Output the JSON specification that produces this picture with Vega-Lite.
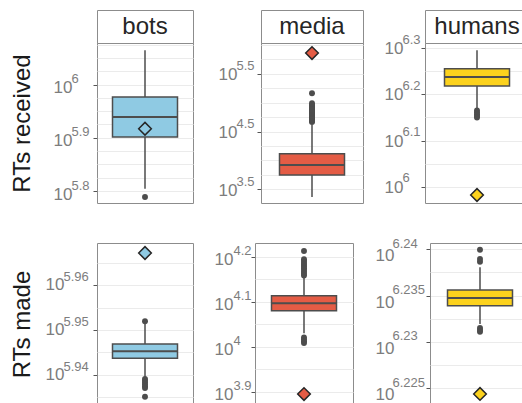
{
  "$schema": "https://vega.github.io/schema/vega-lite/v6.json",
  "autosize": {"type": "pad"},
  "padding": {"left": 9, "top": 9, "right": 0, "bottom": 0},
  "config": {
    "font": "Liberation Sans",
    "view": {"stroke": "#8c8c8c", "strokeWidth": 1},
    "axis": {
      "domain": false,
      "labelColor": "#7d7d7d",
      "labelFont": "Liberation Sans",
      "tickColor": "#555555",
      "tickSize": 4,
      "tickWidth": 1,
      "titleColor": "#1a1a1a",
      "titleFont": "Liberation Sans",
      "titleFontSize": 24,
      "titleFontWeight": "normal"
    },
    "axisX": {"gridColor": "#ededed", "gridWidth": 2},
    "axisY": {"gridColor": "#ebebeb", "gridWidth": 1}
  },
  "datasets": {
    "rts": [
      {"group": "bots", "metric": "received", "lower": 5.8045, "q1": 5.9015, "median": 5.939, "q3": 5.9765, "upper": 6.0642},
      {"group": "bots", "metric": "received", "value": 5.789},
      {"group": "bots", "metric": "received", "marker": 5.917},

      {"group": "media", "metric": "received", "lower": 3.367, "q1": 3.748, "median": 3.921, "q3": 4.117, "upper": 4.64},
      {"group": "media", "metric": "received", "value": 4.668},
      {"group": "media", "metric": "received", "value": 4.683},
      {"group": "media", "metric": "received", "value": 4.698},
      {"group": "media", "metric": "received", "value": 4.713},
      {"group": "media", "metric": "received", "value": 4.728},
      {"group": "media", "metric": "received", "value": 4.743},
      {"group": "media", "metric": "received", "value": 4.758},
      {"group": "media", "metric": "received", "value": 4.773},
      {"group": "media", "metric": "received", "value": 4.788},
      {"group": "media", "metric": "received", "value": 4.803},
      {"group": "media", "metric": "received", "value": 4.818},
      {"group": "media", "metric": "received", "value": 4.833},
      {"group": "media", "metric": "received", "value": 4.848},
      {"group": "media", "metric": "received", "value": 4.863},
      {"group": "media", "metric": "received", "value": 4.878},
      {"group": "media", "metric": "received", "value": 4.893},
      {"group": "media", "metric": "received", "value": 4.908},
      {"group": "media", "metric": "received", "value": 4.926},
      {"group": "media", "metric": "received", "value": 4.944},
      {"group": "media", "metric": "received", "value": 4.962},
      {"group": "media", "metric": "received", "value": 4.99},
      {"group": "media", "metric": "received", "value": 5.164},
      {"group": "media", "metric": "received", "marker": 5.862},

      {"group": "humans", "metric": "received", "lower": 6.169, "q1": 6.2179, "median": 6.2374, "q3": 6.2553, "upper": 6.295},
      {"group": "humans", "metric": "received", "value": 6.165},
      {"group": "humans", "metric": "received", "value": 6.161},
      {"group": "humans", "metric": "received", "value": 6.157},
      {"group": "humans", "metric": "received", "value": 6.153},
      {"group": "humans", "metric": "received", "value": 6.15},
      {"group": "humans", "metric": "received", "marker": 5.9825},

      {"group": "bots", "metric": "made", "lower": 5.93937, "q1": 5.94363, "median": 5.9452, "q3": 5.94683, "upper": 5.95131},
      {"group": "bots", "metric": "made", "value": 5.95191},
      {"group": "bots", "metric": "made", "value": 5.93899},
      {"group": "bots", "metric": "made", "value": 5.93859},
      {"group": "bots", "metric": "made", "value": 5.93819},
      {"group": "bots", "metric": "made", "value": 5.93779},
      {"group": "bots", "metric": "made", "value": 5.93739},
      {"group": "bots", "metric": "made", "value": 5.93697},
      {"group": "bots", "metric": "made", "value": 5.93503},
      {"group": "bots", "metric": "made", "marker": 5.96721},

      {"group": "media", "metric": "made", "lower": 4.0294, "q1": 4.0797, "median": 4.0962, "q3": 4.1131, "upper": 4.154},
      {"group": "media", "metric": "made", "value": 4.2125},
      {"group": "media", "metric": "made", "value": 4.194},
      {"group": "media", "metric": "made", "value": 4.19},
      {"group": "media", "metric": "made", "value": 4.186},
      {"group": "media", "metric": "made", "value": 4.182},
      {"group": "media", "metric": "made", "value": 4.178},
      {"group": "media", "metric": "made", "value": 4.174},
      {"group": "media", "metric": "made", "value": 4.17},
      {"group": "media", "metric": "made", "value": 4.166},
      {"group": "media", "metric": "made", "value": 4.162},
      {"group": "media", "metric": "made", "value": 4.158},
      {"group": "media", "metric": "made", "value": 4.02},
      {"group": "media", "metric": "made", "value": 4.016},
      {"group": "media", "metric": "made", "value": 4.012},
      {"group": "media", "metric": "made", "value": 4.008},
      {"group": "media", "metric": "made", "marker": 3.8944},

      {"group": "humans", "metric": "made", "lower": 6.23193, "q1": 6.23391, "median": 6.23474, "q3": 6.2356, "upper": 6.23805},
      {"group": "humans", "metric": "made", "value": 6.23995},
      {"group": "humans", "metric": "made", "value": 6.23894},
      {"group": "humans", "metric": "made", "value": 6.23865},
      {"group": "humans", "metric": "made", "value": 6.2315},
      {"group": "humans", "metric": "made", "value": 6.2313},
      {"group": "humans", "metric": "made", "value": 6.2311},
      {"group": "humans", "metric": "made", "marker": 6.22439}
    ]
  },
  "spacing": 31,
  "vconcat": [
    {
      "spacing": 23,
      "hconcat": [
        {
          "bounds": "flush",
          "spacing": 0,
          "vconcat": [
            {
              "width": 96, "height": 33,
              "view": {"stroke": "#8c8c8c", "fill": "#ffffff"},
              "data": {"values": [{"group": "bots"}]},
              "mark": {"type": "text", "fontSize": 24, "color": "#262626", "baseline": "middle"},
              "encoding": {"text": {"field": "group"}}
            },
            {
              "width": 96, "height": 160,
              "data": {"name": "rts"},
              "transform": [{"filter": "datum.group === 'bots' && datum.metric === 'received'"}],
              "resolve": {"axis": {"y": "independent"}},
              "layer": [
                {
                  "mark": {"type": "rule", "color": "#4d4d4d", "strokeWidth": 1.5},
                  "encoding": {
                    "x": {"field": "group", "type": "nominal", "axis": {"orient": "top", "domain": true, "domainColor": "#333333", "domainWidth": 1.5, "labels": false, "ticks": false, "title": null, "grid": true, "bandPosition": 0.5}},
                    "y": {"field": "lower", "type": "quantitative", "scale": {"domain": [5.7777, 6.0779], "nice": false, "zero": false}, "axis": {"orient": "left", "values": [5.8, 5.825, 5.85, 5.875, 5.9, 5.925, 5.95, 5.975, 6, 6.025, 6.05, 6.075], "grid": true, "labels": false, "ticks": false, "title": null}},
                    "y2": {"field": "upper"}
                  }
                },
                {
                  "mark": {"type": "bar", "size": 65, "stroke": "#4d4d4d", "strokeWidth": 1.5},
                  "encoding": {
                    "x": {"field": "group", "type": "nominal", "axis": null},
                    "y": {"field": "q1", "type": "quantitative", "scale": {"domain": [5.7777, 6.0779], "nice": false, "zero": false}, "axis": {"orient": "left", "values": [5.8, 5.9, 6], "grid": false, "labelExpr": "'10'", "labelAlign": "left", "labelBaseline": "alphabetic", "labelPadding": 40, "labelOffset": 8, "labelFontSize": 17, "title": "RTs received", "titlePadding": 19}},
                    "y2": {"field": "q3"},
                    "color": {"field": "group", "type": "nominal", "scale": {"domain": ["bots", "media", "humans"], "range": ["#8fcae3", "#e45c45", "#fcd21d"]}, "legend": null}
                  }
                },
                {
                  "mark": {"type": "tick", "size": 65, "thickness": 2, "color": "#4d4d4d", "opacity": 1},
                  "encoding": {
                    "x": {"field": "group", "type": "nominal", "axis": null},
                    "y": {"field": "median", "type": "quantitative", "scale": {"domain": [5.7777, 6.0779], "nice": false, "zero": false}, "axis": {"orient": "left", "values": [5.8, 5.9, 6], "grid": false, "ticks": false, "labelExpr": "format(datum.value, '~g')", "labelAlign": "left", "labelBaseline": "alphabetic", "labelPadding": 26, "labelOffset": -2, "labelFontSize": 13, "title": null}}
                  }
                },
                {
                  "mark": {"type": "point", "filled": true, "size": 35, "color": "#4d4d4d", "opacity": 1},
                  "encoding": {
                    "x": {"field": "group", "type": "nominal", "axis": null},
                    "y": {"field": "value", "type": "quantitative", "scale": {"domain": [5.7777, 6.0779], "nice": false, "zero": false}, "axis": null}
                  }
                },
                {
                  "mark": {"type": "point", "shape": "diamond", "filled": true, "size": 160, "stroke": "#262626", "strokeWidth": 1.5, "opacity": 1},
                  "encoding": {
                    "x": {"field": "group", "type": "nominal", "axis": null},
                    "y": {"field": "marker", "type": "quantitative", "scale": {"domain": [5.7777, 6.0779], "nice": false, "zero": false}, "axis": null},
                    "color": {"field": "group", "type": "nominal", "scale": {"domain": ["bots", "media", "humans"], "range": ["#8fcae3", "#e45c45", "#fcd21d"]}, "legend": null}
                  }
                }
              ]
            }
          ]
        },
        {
          "spacing": 19,
          "hconcat": [
            {
              "bounds": "flush",
              "spacing": 0,
              "vconcat": [
                {
                  "width": 102, "height": 33,
                  "view": {"stroke": "#8c8c8c", "fill": "#ffffff"},
                  "data": {"values": [{"group": "media"}]},
                  "mark": {"type": "text", "fontSize": 24, "color": "#262626", "baseline": "middle"},
                  "encoding": {"text": {"field": "group"}}
                },
                {
                  "width": 102, "height": 160,
                  "data": {"name": "rts"},
                  "transform": [{"filter": "datum.group === 'media' && datum.metric === 'received'"}],
                  "resolve": {"axis": {"y": "independent"}},
                  "layer": [
                    {
                      "mark": {"type": "rule", "color": "#4d4d4d", "strokeWidth": 1.5},
                      "encoding": {
                        "x": {"field": "group", "type": "nominal", "axis": {"orient": "top", "domain": true, "domainColor": "#333333", "domainWidth": 1.5, "labels": false, "ticks": false, "title": null, "grid": true, "bandPosition": 0.5}},
                        "y": {"field": "lower", "type": "quantitative", "scale": {"domain": [3.2626, 6.0355], "nice": false, "zero": false}, "axis": {"orient": "left", "values": [3.5, 3.75, 4, 4.25, 4.5, 4.75, 5, 5.25, 5.5, 5.75, 6], "grid": true, "labels": false, "ticks": false, "title": null}},
                        "y2": {"field": "upper"}
                      }
                    },
                    {
                      "mark": {"type": "bar", "size": 65, "stroke": "#4d4d4d", "strokeWidth": 1.5},
                      "encoding": {
                        "x": {"field": "group", "type": "nominal", "axis": null},
                        "y": {"field": "q1", "type": "quantitative", "scale": {"domain": [3.2626, 6.0355], "nice": false, "zero": false}, "axis": {"orient": "left", "values": [3.5, 4.5, 5.5], "grid": false, "labelExpr": "'10'", "labelAlign": "left", "labelBaseline": "alphabetic", "labelPadding": 39, "labelOffset": 6, "labelFontSize": 17, "title": null}},
                        "y2": {"field": "q3"},
                        "color": {"field": "group", "type": "nominal", "scale": {"domain": ["bots", "media", "humans"], "range": ["#8fcae3", "#e45c45", "#fcd21d"]}, "legend": null}
                      }
                    },
                    {
                      "mark": {"type": "tick", "size": 65, "thickness": 2, "color": "#4d4d4d", "opacity": 1},
                      "encoding": {
                        "x": {"field": "group", "type": "nominal", "axis": null},
                        "y": {"field": "median", "type": "quantitative", "scale": {"domain": [3.2626, 6.0355], "nice": false, "zero": false}, "axis": {"orient": "left", "values": [3.5, 4.5, 5.5], "grid": false, "ticks": false, "labelExpr": "format(datum.value, '~g')", "labelAlign": "left", "labelBaseline": "alphabetic", "labelPadding": 25, "labelOffset": -4, "labelFontSize": 13, "title": null}}
                      }
                    },
                    {
                      "mark": {"type": "point", "filled": true, "size": 35, "color": "#4d4d4d", "opacity": 1},
                      "encoding": {
                        "x": {"field": "group", "type": "nominal", "axis": null},
                        "y": {"field": "value", "type": "quantitative", "scale": {"domain": [3.2626, 6.0355], "nice": false, "zero": false}, "axis": null}
                      }
                    },
                    {
                      "mark": {"type": "point", "shape": "diamond", "filled": true, "size": 160, "stroke": "#262626", "strokeWidth": 1.5, "opacity": 1},
                      "encoding": {
                        "x": {"field": "group", "type": "nominal", "axis": null},
                        "y": {"field": "marker", "type": "quantitative", "scale": {"domain": [3.2626, 6.0355], "nice": false, "zero": false}, "axis": null},
                        "color": {"field": "group", "type": "nominal", "scale": {"domain": ["bots", "media", "humans"], "range": ["#8fcae3", "#e45c45", "#fcd21d"]}, "legend": null}
                      }
                    }
                  ]
                }
              ]
            },
            {
              "bounds": "flush",
              "spacing": 0,
              "vconcat": [
                {
                  "width": 104, "height": 33,
                  "view": {"stroke": "#8c8c8c", "fill": "#ffffff"},
                  "data": {"values": [{"group": "humans"}]},
                  "mark": {"type": "text", "fontSize": 24, "color": "#262626", "baseline": "middle"},
                  "encoding": {"text": {"field": "group"}}
                },
                {
                  "width": 104, "height": 160,
                  "data": {"name": "rts"},
                  "transform": [{"filter": "datum.group === 'humans' && datum.metric === 'received'"}],
                  "resolve": {"axis": {"y": "independent"}},
                  "layer": [
                    {
                      "mark": {"type": "rule", "color": "#4d4d4d", "strokeWidth": 1.5},
                      "encoding": {
                        "x": {"field": "group", "type": "nominal", "axis": {"orient": "top", "domain": true, "domainColor": "#333333", "domainWidth": 1.5, "labels": false, "ticks": false, "title": null, "grid": true, "bandPosition": 0.5}},
                        "y": {"field": "lower", "type": "quantitative", "scale": {"domain": [5.9652, 6.3108], "nice": false, "zero": false}, "axis": {"orient": "left", "values": [6, 6.05, 6.1, 6.15, 6.2, 6.25, 6.3], "grid": true, "labels": false, "ticks": false, "title": null}},
                        "y2": {"field": "upper"}
                      }
                    },
                    {
                      "mark": {"type": "bar", "size": 65, "stroke": "#4d4d4d", "strokeWidth": 1.5},
                      "encoding": {
                        "x": {"field": "group", "type": "nominal", "axis": null},
                        "y": {"field": "q1", "type": "quantitative", "scale": {"domain": [5.9652, 6.3108], "nice": false, "zero": false}, "axis": {"orient": "left", "values": [6, 6.1, 6.2, 6.3], "grid": false, "labelExpr": "'10'", "labelAlign": "left", "labelBaseline": "alphabetic", "labelPadding": 37, "labelOffset": 5.5, "labelFontSize": 17, "title": null}},
                        "y2": {"field": "q3"},
                        "color": {"field": "group", "type": "nominal", "scale": {"domain": ["bots", "media", "humans"], "range": ["#8fcae3", "#e45c45", "#fcd21d"]}, "legend": null}
                      }
                    },
                    {
                      "mark": {"type": "tick", "size": 65, "thickness": 2, "color": "#4d4d4d", "opacity": 1},
                      "encoding": {
                        "x": {"field": "group", "type": "nominal", "axis": null},
                        "y": {"field": "median", "type": "quantitative", "scale": {"domain": [5.9652, 6.3108], "nice": false, "zero": false}, "axis": {"orient": "left", "values": [6, 6.1, 6.2, 6.3], "grid": false, "ticks": false, "labelExpr": "format(datum.value, '~g')", "labelAlign": "left", "labelBaseline": "alphabetic", "labelPadding": 23, "labelOffset": -5, "labelFontSize": 13, "title": null}}
                      }
                    },
                    {
                      "mark": {"type": "point", "filled": true, "size": 35, "color": "#4d4d4d", "opacity": 1},
                      "encoding": {
                        "x": {"field": "group", "type": "nominal", "axis": null},
                        "y": {"field": "value", "type": "quantitative", "scale": {"domain": [5.9652, 6.3108], "nice": false, "zero": false}, "axis": null}
                      }
                    },
                    {
                      "mark": {"type": "point", "shape": "diamond", "filled": true, "size": 160, "stroke": "#262626", "strokeWidth": 1.5, "opacity": 1},
                      "encoding": {
                        "x": {"field": "group", "type": "nominal", "axis": null},
                        "y": {"field": "marker", "type": "quantitative", "scale": {"domain": [5.9652, 6.3108], "nice": false, "zero": false}, "axis": null},
                        "color": {"field": "group", "type": "nominal", "scale": {"domain": ["bots", "media", "humans"], "range": ["#8fcae3", "#e45c45", "#fcd21d"]}, "legend": null}
                      }
                    }
                  ]
                }
              ]
            }
          ]
        }
      ]
    },
    {
      "spacing": 19,
      "hconcat": [
        {
          "width": 96, "height": 162,
          "data": {"name": "rts"},
          "transform": [{"filter": "datum.group === 'bots' && datum.metric === 'made'"}],
          "resolve": {"axis": {"y": "independent"}},
          "layer": [
            {
              "mark": {"type": "rule", "color": "#4d4d4d", "strokeWidth": 1.5},
              "encoding": {
                "x": {"field": "group", "type": "nominal", "axis": {"orient": "top", "domain": false, "labels": false, "ticks": false, "title": null, "grid": true, "bandPosition": 0.5}},
                "y": {"field": "lower", "type": "quantitative", "scale": {"domain": [5.93317, 5.96945], "nice": false, "zero": false}, "axis": {"orient": "left", "values": [5.935, 5.94, 5.945, 5.95, 5.955, 5.96, 5.965], "grid": true, "labels": false, "ticks": false, "title": null}},
                "y2": {"field": "upper"}
              }
            },
            {
              "mark": {"type": "bar", "size": 65, "stroke": "#4d4d4d", "strokeWidth": 1.5},
              "encoding": {
                "x": {"field": "group", "type": "nominal", "axis": null},
                "y": {"field": "q1", "type": "quantitative", "scale": {"domain": [5.93317, 5.96945], "nice": false, "zero": false}, "axis": {"orient": "left", "values": [5.94, 5.95, 5.96], "grid": false, "labelExpr": "'10'", "labelAlign": "left", "labelBaseline": "alphabetic", "labelPadding": 48, "labelOffset": 4.5, "labelFontSize": 17, "title": "RTs made", "titlePadding": 11}},
                "y2": {"field": "q3"},
                "color": {"field": "group", "type": "nominal", "scale": {"domain": ["bots", "media", "humans"], "range": ["#8fcae3", "#e45c45", "#fcd21d"]}, "legend": null}
              }
            },
            {
              "mark": {"type": "tick", "size": 65, "thickness": 2, "color": "#4d4d4d", "opacity": 1},
              "encoding": {
                "x": {"field": "group", "type": "nominal", "axis": null},
                "y": {"field": "median", "type": "quantitative", "scale": {"domain": [5.93317, 5.96945], "nice": false, "zero": false}, "axis": {"orient": "left", "values": [5.94, 5.95, 5.96], "grid": false, "ticks": false, "labelExpr": "format(datum.value, '~g')", "labelAlign": "left", "labelBaseline": "alphabetic", "labelPadding": 34, "labelOffset": -4.5, "labelFontSize": 13, "title": null}}
              }
            },
            {
              "mark": {"type": "point", "filled": true, "size": 35, "color": "#4d4d4d", "opacity": 1},
              "encoding": {
                "x": {"field": "group", "type": "nominal", "axis": null},
                "y": {"field": "value", "type": "quantitative", "scale": {"domain": [5.93317, 5.96945], "nice": false, "zero": false}, "axis": null}
              }
            },
            {
              "mark": {"type": "point", "shape": "diamond", "filled": true, "size": 160, "stroke": "#262626", "strokeWidth": 1.5, "opacity": 1},
              "encoding": {
                "x": {"field": "group", "type": "nominal", "axis": null},
                "y": {"field": "marker", "type": "quantitative", "scale": {"domain": [5.93317, 5.96945], "nice": false, "zero": false}, "axis": null},
                "color": {"field": "group", "type": "nominal", "scale": {"domain": ["bots", "media", "humans"], "range": ["#8fcae3", "#e45c45", "#fcd21d"]}, "legend": null}
              }
            }
          ]
        },
        {
          "spacing": 20,
          "hconcat": [
            {
              "width": 98, "height": 162,
              "data": {"name": "rts"},
              "transform": [{"filter": "datum.group === 'media' && datum.metric === 'made'"}],
              "resolve": {"axis": {"y": "independent"}},
              "layer": [
                {
                  "mark": {"type": "rule", "color": "#4d4d4d", "strokeWidth": 1.5},
                  "encoding": {
                    "x": {"field": "group", "type": "nominal", "axis": {"orient": "top", "domain": false, "labels": false, "ticks": false, "title": null, "grid": true, "bandPosition": 0.5}},
                    "y": {"field": "lower", "type": "quantitative", "scale": {"domain": [3.87, 4.2302], "nice": false, "zero": false}, "axis": {"orient": "left", "values": [3.9, 3.95, 4, 4.05, 4.1, 4.15, 4.2], "grid": true, "labels": false, "ticks": false, "title": null}},
                    "y2": {"field": "upper"}
                  }
                },
                {
                  "mark": {"type": "bar", "size": 65, "stroke": "#4d4d4d", "strokeWidth": 1.5},
                  "encoding": {
                    "x": {"field": "group", "type": "nominal", "axis": null},
                    "y": {"field": "q1", "type": "quantitative", "scale": {"domain": [3.87, 4.2302], "nice": false, "zero": false}, "axis": {"orient": "left", "values": [3.9, 4, 4.1, 4.2], "grid": false, "labelExpr": "'10'", "labelAlign": "left", "labelBaseline": "alphabetic", "labelPadding": 37, "labelOffset": 7.5, "labelFontSize": 17, "title": null}},
                    "y2": {"field": "q3"},
                    "color": {"field": "group", "type": "nominal", "scale": {"domain": ["bots", "media", "humans"], "range": ["#8fcae3", "#e45c45", "#fcd21d"]}, "legend": null}
                  }
                },
                {
                  "mark": {"type": "tick", "size": 65, "thickness": 2, "color": "#4d4d4d", "opacity": 1},
                  "encoding": {
                    "x": {"field": "group", "type": "nominal", "axis": null},
                    "y": {"field": "median", "type": "quantitative", "scale": {"domain": [3.87, 4.2302], "nice": false, "zero": false}, "axis": {"orient": "left", "values": [3.9, 4, 4.1, 4.2], "grid": false, "ticks": false, "labelExpr": "format(datum.value, '~g')", "labelAlign": "left", "labelBaseline": "alphabetic", "labelPadding": 22, "labelOffset": -2, "labelFontSize": 13, "title": null}}
                  }
                },
                {
                  "mark": {"type": "point", "filled": true, "size": 35, "color": "#4d4d4d", "opacity": 1},
                  "encoding": {
                    "x": {"field": "group", "type": "nominal", "axis": null},
                    "y": {"field": "value", "type": "quantitative", "scale": {"domain": [3.87, 4.2302], "nice": false, "zero": false}, "axis": null}
                  }
                },
                {
                  "mark": {"type": "point", "shape": "diamond", "filled": true, "size": 160, "stroke": "#262626", "strokeWidth": 1.5, "opacity": 1},
                  "encoding": {
                    "x": {"field": "group", "type": "nominal", "axis": null},
                    "y": {"field": "marker", "type": "quantitative", "scale": {"domain": [3.87, 4.2302], "nice": false, "zero": false}, "axis": null},
                    "color": {"field": "group", "type": "nominal", "scale": {"domain": ["bots", "media", "humans"], "range": ["#8fcae3", "#e45c45", "#fcd21d"]}, "legend": null}
                  }
                }
              ]
            },
            {
              "width": 100, "height": 162,
              "data": {"name": "rts"},
              "transform": [{"filter": "datum.group === 'humans' && datum.metric === 'made'"}],
              "resolve": {"axis": {"y": "independent"}},
              "layer": [
                {
                  "mark": {"type": "rule", "color": "#4d4d4d", "strokeWidth": 1.5},
                  "encoding": {
                    "x": {"field": "group", "type": "nominal", "axis": {"orient": "top", "domain": false, "labels": false, "ticks": false, "title": null, "grid": true, "bandPosition": 0.5}},
                    "y": {"field": "lower", "type": "quantitative", "scale": {"domain": [6.2232, 6.24067], "nice": false, "zero": false}, "axis": {"orient": "left", "values": [6.225, 6.2275, 6.23, 6.2325, 6.235, 6.2375, 6.24], "grid": true, "labels": false, "ticks": false, "title": null}},
                    "y2": {"field": "upper"}
                  }
                },
                {
                  "mark": {"type": "bar", "size": 65, "stroke": "#4d4d4d", "strokeWidth": 1.5},
                  "encoding": {
                    "x": {"field": "group", "type": "nominal", "axis": null},
                    "y": {"field": "q1", "type": "quantitative", "scale": {"domain": [6.2232, 6.24067], "nice": false, "zero": false}, "axis": {"orient": "left", "values": [6.225, 6.23, 6.235, 6.24], "grid": false, "labelExpr": "'10'", "labelAlign": "left", "labelBaseline": "alphabetic", "labelPadding": 51, "labelOffset": 11.5, "labelFontSize": 17, "title": null}},
                    "y2": {"field": "q3"},
                    "color": {"field": "group", "type": "nominal", "scale": {"domain": ["bots", "media", "humans"], "range": ["#8fcae3", "#e45c45", "#fcd21d"]}, "legend": null}
                  }
                },
                {
                  "mark": {"type": "tick", "size": 65, "thickness": 2, "color": "#4d4d4d", "opacity": 1},
                  "encoding": {
                    "x": {"field": "group", "type": "nominal", "axis": null},
                    "y": {"field": "median", "type": "quantitative", "scale": {"domain": [6.2232, 6.24067], "nice": false, "zero": false}, "axis": {"orient": "left", "values": [6.225, 6.23, 6.235, 6.24], "grid": false, "ticks": false, "labelExpr": "format(datum.value, '~g')", "labelAlign": "left", "labelBaseline": "alphabetic", "labelPadding": 38, "labelOffset": -2, "labelFontSize": 13, "title": null}}
                  }
                },
                {
                  "mark": {"type": "point", "filled": true, "size": 35, "color": "#4d4d4d", "opacity": 1},
                  "encoding": {
                    "x": {"field": "group", "type": "nominal", "axis": null},
                    "y": {"field": "value", "type": "quantitative", "scale": {"domain": [6.2232, 6.24067], "nice": false, "zero": false}, "axis": null}
                  }
                },
                {
                  "mark": {"type": "point", "shape": "diamond", "filled": true, "size": 160, "stroke": "#262626", "strokeWidth": 1.5, "opacity": 1},
                  "encoding": {
                    "x": {"field": "group", "type": "nominal", "axis": null},
                    "y": {"field": "marker", "type": "quantitative", "scale": {"domain": [6.2232, 6.24067], "nice": false, "zero": false}, "axis": null},
                    "color": {"field": "group", "type": "nominal", "scale": {"domain": ["bots", "media", "humans"], "range": ["#8fcae3", "#e45c45", "#fcd21d"]}, "legend": null}
                  }
                }
              ]
            }
          ]
        }
      ]
    }
  ]
}
